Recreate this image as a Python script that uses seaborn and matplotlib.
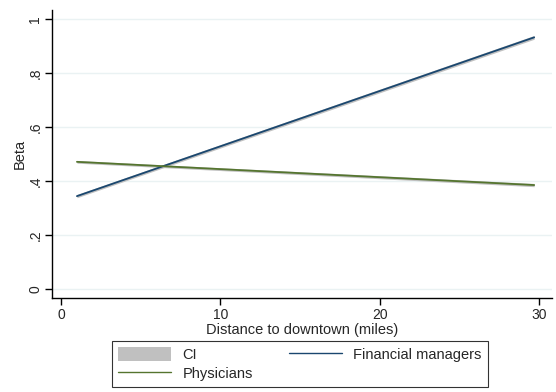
import pandas as pd
import matplotlib.pyplot as plt
import seaborn as sns
from matplotlib.patches import Patch
from matplotlib.lines import Line2D

# values
distance = [1, 29.7]
fin_beta = [0.344, 0.932]
fin_lo = [0.338, 0.925]
fin_hi = [0.350, 0.939]
phys_beta = [0.471, 0.385]
phys_lo = [0.466, 0.379]
phys_hi = [0.476, 0.391]
yticks = [0, 0.2, 0.4, 0.6, 0.8, 1]
ylabels = ["0", ".2", ".4", ".6", ".8", "1"]
xticks = [0, 10, 20, 30]

df = pd.DataFrame({
    "Distance": distance * 2,
    "Beta": fin_beta + phys_beta,
    "Group": ["Financial managers"] * 2 + ["Physicians"] * 2,
})

sns.set_style("white")
plt.rcParams['font.family'] = ['Liberation Sans', 'DejaVu Sans']

fig = plt.figure(figsize=(5.56, 3.92), dpi=100)
ax = fig.add_axes([52 / 556, 1 - 298 / 392, 500 / 556, 288 / 392])

for y in yticks:
    ax.axhline(y, color="#eaf2f3", lw=1, zorder=0)

ax.fill_between(distance, fin_lo, fin_hi, color="#c0c0c0", lw=0, zorder=1)
ax.fill_between(distance, phys_lo, phys_hi, color="#c0c0c0", lw=0, zorder=1)
sns.lineplot(data=df, x="Distance", y="Beta", hue="Group",
             palette={"Financial managers": "#1a476f", "Physicians": "#55752f"},
             lw=1.3, ax=ax, legend=False, zorder=2)

ax.set_xlim(-0.565, 30.82)
ax.set_ylim(-0.0333, 1.0333)
ax.set_xticks(xticks)
ax.set_yticks(yticks)
ax.set_yticklabels(ylabels, rotation=90, va="center")
ax.tick_params(axis="both", direction="out", length=5, width=1, color="black",
               labelsize=10, pad=2)
ax.tick_params(axis="x", bottom=True)
ax.tick_params(axis="y", left=True)
ax.set_xlabel("Distance to downtown (miles)", fontsize=10.5, labelpad=1)
ax.set_ylabel("Beta", fontsize=10.5, labelpad=1)
for s in ["top", "right"]:
    ax.spines[s].set_visible(False)
for s in ["left", "bottom"]:
    ax.spines[s].set_color("black")
    ax.spines[s].set_linewidth(1)

handles = [Patch(facecolor="#c0c0c0", edgecolor="none"),
           Line2D([], [], color="#55752f", lw=1),
           Line2D([], [], color="#1a476f", lw=1)]
labels = ["CI", "Physicians", "Financial managers"]
leg = fig.legend(handles, labels, ncol=2, loc="lower center",
                 bbox_to_anchor=(300 / 556, -0.006), frameon=True, fancybox=False,
                 fontsize=10.5, handlelength=3.6, handleheight=1.1,
                 columnspacing=2.5, labelspacing=0.3, borderpad=0.4)
leg.get_frame().set_edgecolor("black")
leg.get_frame().set_linewidth(0.8)

plt.savefig("out.png", dpi=100)
